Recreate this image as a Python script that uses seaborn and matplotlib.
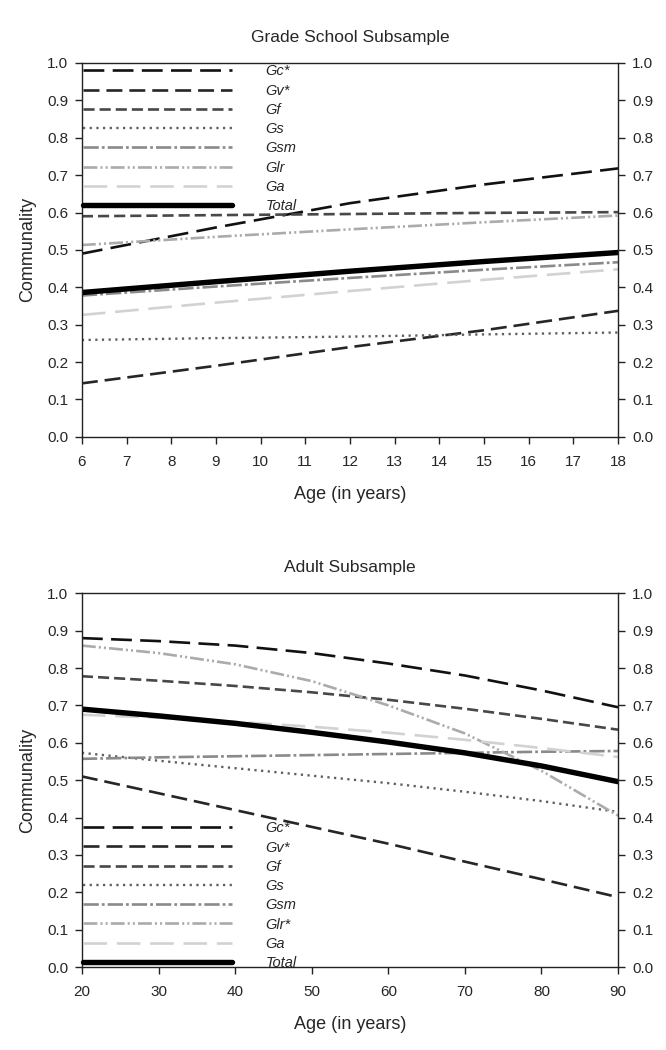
import matplotlib
matplotlib.use("Agg")
import pandas as pd
import matplotlib.pyplot as plt
import seaborn as sns

# Grade school subsample (ages 6-18)
school_labels = ["Gc*", "Gv*", "Gf", "Gs", "Gsm", "Glr", "Ga", "Total"]
school_age = [6, 9, 12, 15, 18]
school_gc = [0.49, 0.56, 0.625, 0.675, 0.718]
school_gv = [0.143, 0.19, 0.24, 0.285, 0.337]
school_gf = [0.59, 0.593, 0.596, 0.599, 0.601]
school_gs = [0.259, 0.264, 0.268, 0.274, 0.279]
school_gsm = [0.378, 0.402, 0.425, 0.447, 0.467]
school_glr = [0.513, 0.535, 0.555, 0.574, 0.592]
school_ga = [0.326, 0.359, 0.39, 0.42, 0.448]
school_total = [0.386, 0.415, 0.443, 0.469, 0.493]

# Adult subsample (ages 20-90)
adult_labels = ["Gc*", "Gv*", "Gf", "Gs", "Gsm", "Glr*", "Ga", "Total"]
adult_age = [20, 30, 40, 50, 60, 70, 80, 90]
adult_gc = [0.88, 0.872, 0.86, 0.84, 0.812, 0.78, 0.74, 0.695]
adult_gv = [0.51, 0.465, 0.42, 0.375, 0.33, 0.282, 0.235, 0.187]
adult_gf = [0.778, 0.766, 0.752, 0.735, 0.715, 0.691, 0.664, 0.635]
adult_gs = [0.573, 0.552, 0.532, 0.512, 0.492, 0.469, 0.444, 0.415]
adult_gsm = [0.557, 0.561, 0.564, 0.567, 0.57, 0.573, 0.576, 0.578]
adult_glr = [0.86, 0.84, 0.81, 0.765, 0.70, 0.625, 0.525, 0.405]
adult_ga = [0.675, 0.667, 0.656, 0.643, 0.627, 0.608, 0.586, 0.562]
adult_total = [0.69, 0.672, 0.652, 0.628, 0.602, 0.573, 0.538, 0.496]

# line styles, one per factor position
colors = ["#111111", "#262626", "#484848", "#5e5e5e", "#8a8a8a", "#ababab", "#d2d2d2", "#000000"]
dash_list = [(15, 6), (11.5, 5), (8, 3.6), (1.6, 3.2), (11, 2.2, 2, 2.2),
             (10, 2.2, 1.5, 2.2, 1.5, 2.2), (17, 7), ""]
widths = [1.9, 1.9, 1.9, 1.7, 1.9, 1.9, 1.9, 3.9]

sns.set_style("ticks")
plt.rcParams["font.family"] = ["Liberation Sans", "DejaVu Sans"]
plt.rcParams["lines.scale_dashes"] = False


def long_form(ages, labels, series):
    rows = []
    for lab, vals in zip(labels, series):
        for a, v in zip(ages, vals):
            rows.append({"age": a, "value": v, "factor": lab})
    return pd.DataFrame(rows)


def draw_panel(ax, df, labels, title, xlim, xticks, legend_loc, anchor):
    sns.lineplot(data=df, x="age", y="value", hue="factor", style="factor", size="factor",
                 hue_order=labels, style_order=labels, size_order=labels,
                 palette=dict(zip(labels, colors)), dashes=dict(zip(labels, dash_list)),
                 sizes=dict(zip(labels, widths)), legend=False, ax=ax)
    ax.set_xlim(*xlim)
    ax.set_ylim(0, 1.0)
    ax.set_xticks(xticks)
    ax.set_yticks([i / 10 for i in range(11)])
    ax.set_yticklabels([f"{i / 10:.1f}" for i in range(11)])
    ax.tick_params(axis="both", labelsize=11, length=5, width=1, color="#222222")
    ax.tick_params(axis="x", pad=8)
    ax.tick_params(axis="y", right=True, labelright=True, pad=5)
    for s in ax.spines.values():
        s.set_visible(True)
        s.set_linewidth(1)
        s.set_color("#222222")
    ax.set_title(title, fontsize=12.5, pad=15)
    ax.set_xlabel("Age (in years)", fontsize=13, labelpad=12)
    ax.set_ylabel("Communality", fontsize=13, labelpad=8)
    ax.legend(handles=ax.lines[:len(labels)], labels=labels, loc=legend_loc,
              bbox_to_anchor=anchor, frameon=False,
              handlelength=10.2, handletextpad=2.3, labelspacing=0.36,
              borderaxespad=0, borderpad=0.1, prop={"style": "italic", "size": 10.5})


fig = plt.figure(figsize=(6.66, 10.5), dpi=100)
ax1 = fig.add_axes([0.123, 0.584, 0.805, 0.356])
ax2 = fig.add_axes([0.123, 0.079, 0.805, 0.356])

school = long_form(school_age, school_labels,
                   [school_gc, school_gv, school_gf, school_gs, school_gsm, school_glr, school_ga, school_total])
adult = long_form(adult_age, adult_labels,
                  [adult_gc, adult_gv, adult_gf, adult_gs, adult_gsm, adult_glr, adult_ga, adult_total])

draw_panel(ax1, school, school_labels, "Grade School Subsample", (6, 18), range(6, 19),
           "upper left", (0, 1))
draw_panel(ax2, adult, adult_labels, "Adult Subsample", (20, 90), range(20, 91, 10),
           "lower left", (0, -0.012))

fig.savefig("out.png", dpi=100)
